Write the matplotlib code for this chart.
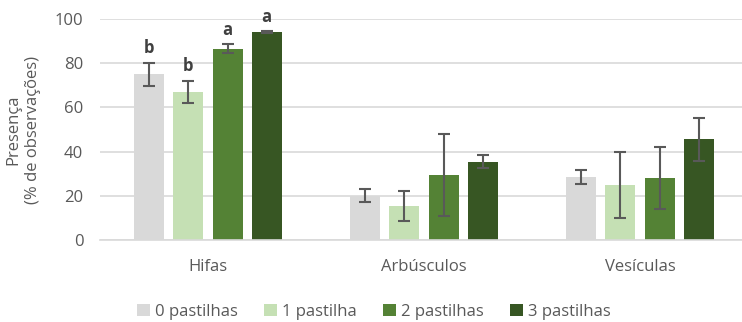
import matplotlib.pyplot as plt
import numpy as np

plt.rcParams['font.family'] = ['Open Sans', 'DejaVu Sans']

categories = ["Hifas", "Arbúsculos", "Vesículas"]
series = ["0 pastilhas", "1 pastilha", "2 pastilhas", "3 pastilhas"]
# presence (% of observations) per series, one value per category
values = [
    [75.0, 20.0, 28.5],
    [67.0, 15.5, 25.0],
    [86.5, 29.5, 28.0],
    [94.0, 35.5, 45.5],
]
errors = [
    [5.2, 3.0, 3.3],
    [5.0, 6.7, 15.0],
    [2.0, 18.5, 14.0],
    [0.5, 3.0, 9.6],
]
# significance letters (Hifas only)
letters = [["b", "", ""], ["b", "", ""], ["a", "", ""], ["a", "", ""]]
colors = ["#d9d9d9", "#c5e0b4", "#548235", "#375623"]

text_col = "#595959"
fs = 12
fig = plt.figure(figsize=(7.42, 3.22), dpi=100)
ax = fig.add_axes([100 / 742, 1 - 240 / 322, 642 / 742, 221 / 322])

x = np.arange(len(categories))
width = 0.139
step = 0.181
for i, (name, vals, errs, c) in enumerate(zip(series, values, errors, colors)):
    pos = x + (i - 1.5) * step
    ax.bar(pos, vals, width, color=c, label=name, zorder=2)
    ax.errorbar(pos, vals, yerr=errs, fmt="none", ecolor="#595959",
                elinewidth=1.5, capsize=4, capthick=1.5, zorder=3)
    for p, v, e, lab in zip(pos, vals, errs, letters[i]):
        if lab:
            ax.annotate(lab, (p, v + e), xytext=(0, 4), textcoords="offset points",
                        ha="center", va="bottom", fontsize=12, fontweight="bold",
                        color="#404040")

ax.set_ylim(0, 100)
ax.set_xlim(-0.5, 2.5 - 6 / 215.5)
ax.set_yticks(range(0, 101, 20))
ax.set_xticks(x)
ax.set_xticklabels(categories)
ax.grid(axis="y", color="#d9d9d9", linewidth=1.2, zorder=0)
ax.set_axisbelow(True)
for s in ["top", "right", "left"]:
    ax.spines[s].set_visible(False)
ax.spines["bottom"].set_color("#d9d9d9")
ax.spines["bottom"].set_linewidth(1.2)
ax.tick_params(length=0, labelsize=fs, colors=text_col, pad=12)
ax.tick_params(axis="x", pad=14)
ax.set_ylabel("Presença\n(% de observações)", fontsize=fs, color=text_col,
              labelpad=10, linespacing=1.3)

ax.legend(loc="center", bbox_to_anchor=(0.5 - 47 / 642, -0.325),
          ncol=4, frameon=False, fontsize=fs, labelcolor=text_col,
          handlelength=0.75, handleheight=0.75, handletextpad=0.3,
          columnspacing=1.6, borderpad=0)

fig.savefig("out.png", dpi=100)
